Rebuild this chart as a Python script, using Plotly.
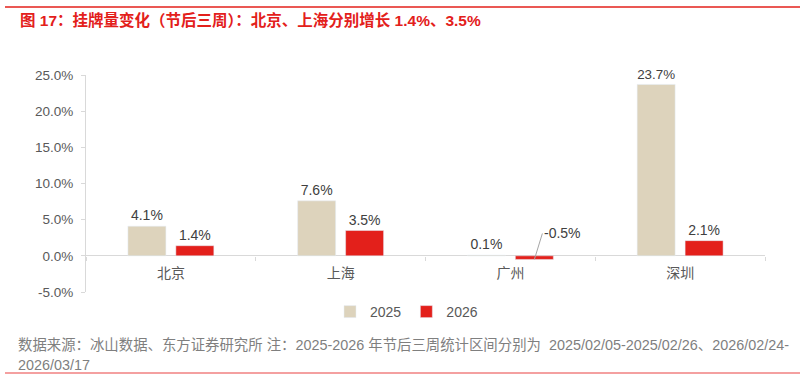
import plotly.graph_objects as go

categories = ["北京", "上海", "广州", "深圳"]
s2025 = [4.1, 7.6, 0.1, 23.7]
s2026 = [1.4, 3.5, -0.5, 2.1]
label2025 = ["4.1%", "7.6%", "0.1%", "23.7%"]
label2026 = ["1.4%", "3.5%", "", "2.1%"]
ytickvals = [-5, 0, 5, 10, 15, 20, 25]
yticktext = ["-5.0%", "0.0%", "5.0%", "10.0%", "15.0%", "20.0%", "25.0%"]

FONT = "Liberation Sans, Noto Sans CJK SC, sans-serif"
C25 = "#DDD3BC"
C26 = "#E3201B"
PW, PH = 679, 217

fig = go.Figure()
fig.add_trace(go.Bar(name="2025", x=categories, y=s2025, marker_color=C25,
                     text=label2025, textposition="outside", cliponaxis=False,
                     textfont=dict(color="#404040", size=14, family=FONT)))
fig.add_trace(go.Bar(name="2026", x=categories, y=s2026, marker_color=C26,
                     text=label2026, textposition="outside", cliponaxis=False,
                     textfont=dict(color="#404040", size=14, family=FONT)))

fig.add_annotation(x=2, y=s2026[2], xref="x", yref="y", text="-0.5%",
                   showarrow=True, arrowhead=0, arrowcolor="#A6A6A6", arrowwidth=1,
                   ax=8, ay=-26, xshift=24, xanchor="left",
                   font=dict(color="#404040", size=14, family=FONT))

fig.update_layout(
    width=803, height=378,
    margin=dict(l=86, r=38, t=75, b=86),
    plot_bgcolor="white", paper_bgcolor="white",
    barmode="group", bargap=0.435, bargroupgap=0.208,
    font=dict(family=FONT, color="#595959", size=13),
    showlegend=True,
    legend=dict(orientation="h", x=0.5 - 19 / PW, xanchor="center", y=-(312 - 292) / PH, yanchor="middle",
                font=dict(size=14, color="#595959"), itemwidth=30,
                traceorder="normal"),
    xaxis=dict(showline=False, ticks="outside", ticklen=4, tickson="boundaries",
               tickcolor="#D9D9D9", anchor="free", position=(292 - 256) / PH,
               ticklabelstandoff=7,
               tickfont=dict(size=14, color="#595959")),
    yaxis=dict(range=[-5, 25], tickvals=ytickvals, ticktext=yticktext,
               showgrid=False, zeroline=True, zerolinecolor="#D9D9D9", zerolinewidth=1,
               showline=True, linecolor="#D9D9D9", ticks="outside", ticklen=4,
               ticklabelstandoff=5,
               tickcolor="#D9D9D9", tickfont=dict(size=13.5, color="#595959")),
)

fig.add_annotation(xref="paper", yref="paper", x=(18 - 86) / PW, y=1 + (75 - 20) / PH,
                   xanchor="left", yanchor="middle", showarrow=False,
                   text="<b>图 17：挂牌量变化（节后三周）：北京、上海分别增长 1.4%、3.5%</b>",
                   font=dict(color="#E3201B", size=15.5, family=FONT))
fig.add_annotation(xref="paper", yref="paper", x=(16 - 86) / PW, y=-(345 - 292) / PH,
                   xanchor="left", yanchor="middle", showarrow=False,
                   text="数据来源：冰山数据、东方证券研究所 注：2025-2026 年节后三周统计区间分别为  2025/02/05-2025/02/26、2026/02/24-",
                   font=dict(color="#7F7F7F", size=14.4, family=FONT))
fig.add_annotation(xref="paper", yref="paper", x=(16 - 86) / PW, y=-(365 - 292) / PH,
                   xanchor="left", yanchor="middle", showarrow=False,
                   text="2026/03/17",
                   font=dict(color="#7F7F7F", size=14.4, family=FONT))
fig.add_shape(type="line", xref="paper", yref="paper", x0=(5 - 86) / PW, x1=(800 - 86) / PW,
              y0=1 + (75 - 7) / PH, y1=1 + (75 - 7) / PH, line=dict(color="#E3201B", width=1.5))
fig.add_shape(type="line", xref="paper", yref="paper", x0=(5 - 86) / PW, x1=(800 - 86) / PW,
              y0=-(373 - 292) / PH, y1=-(373 - 292) / PH, line=dict(color="#F08080", width=1.5))

fig.write_html("out.html", config={"displayModeBar": False},
               post_script="document.body.style.margin='0';document.body.style.overflow='hidden';")
